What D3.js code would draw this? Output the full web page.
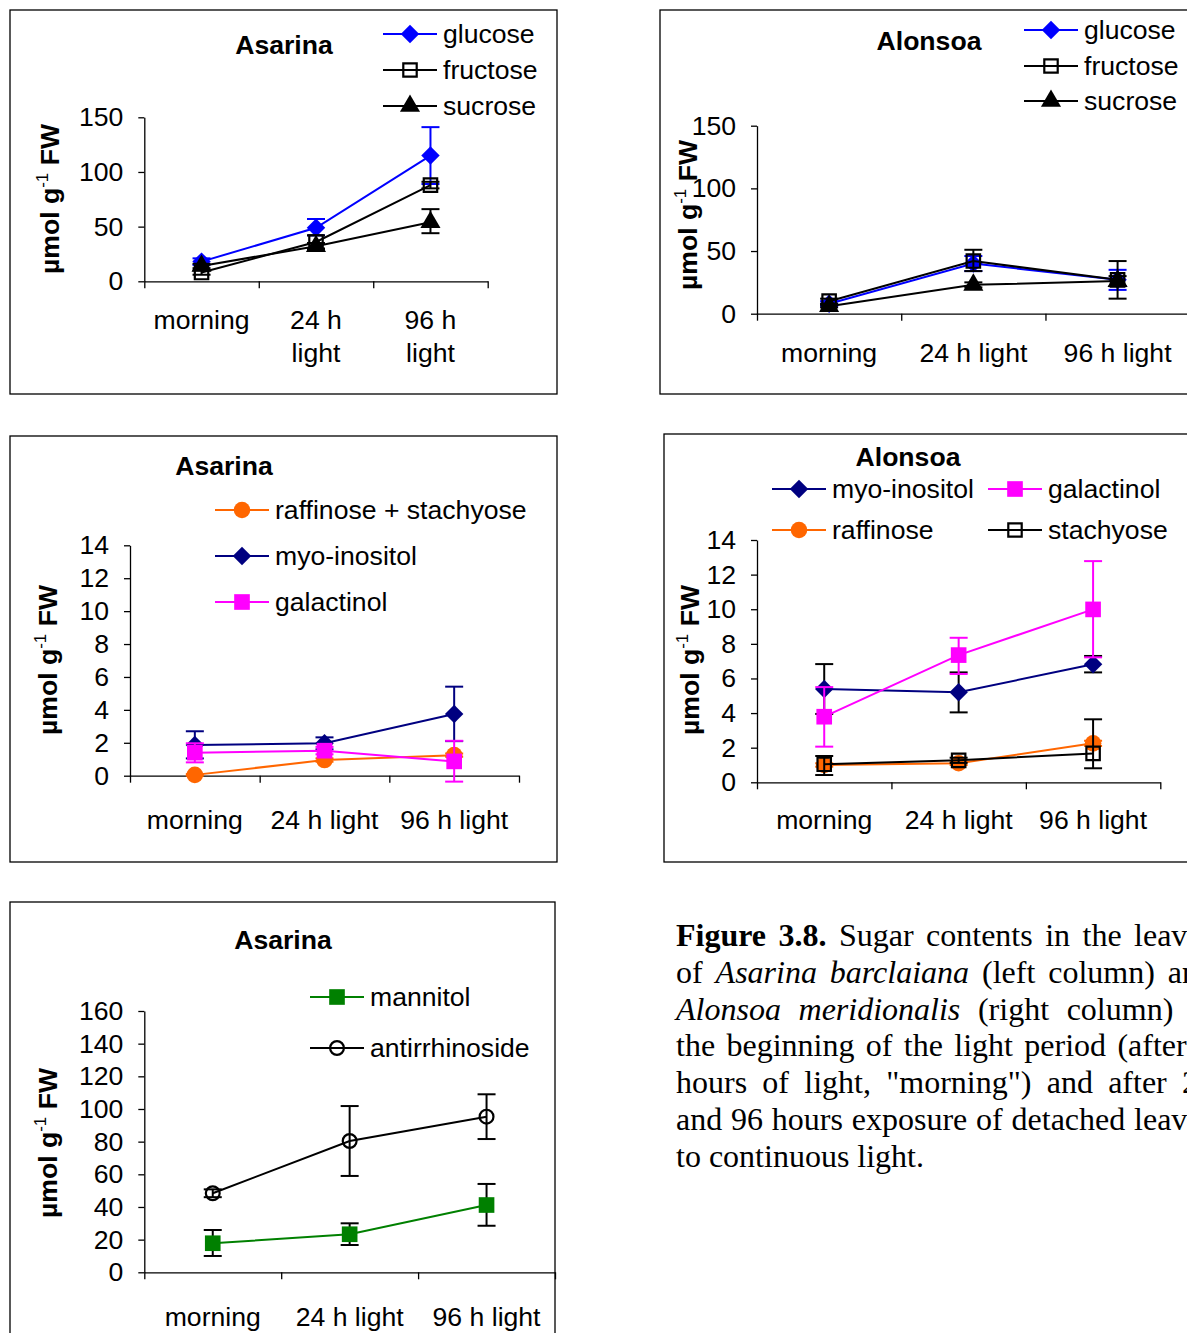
<!DOCTYPE html>
<html>
<head>
<meta charset="utf-8">
<script src="https://cdn.jsdelivr.net/npm/d3@7"></script>
<style>
  body { margin: 0; background: #fff; }
  svg { display: block; }
  text { font-family: "Liberation Sans", Arial, sans-serif; fill: #000; }
  text.caption { font-family: "Liberation Serif", "Times New Roman", serif; }
</style>
</head>
<body>
<div id="vis"></div>
<script>
var width = 1187;
var height = 1333;

// categories on the x axis
var categories = ["morning", "24 h light", "96 h light"];
var categoryLines = [["morning"], ["24 h", "light"], ["96 h", "light"]];

// Asarina: glucose, fructose, sucrose (umol g-1 FW), errors as [low, high]
var asGlucose = [18, 49, 115];
var asGlucoseErr = [[15, 21], [42, 57], [89, 141]];
var asFructose = [8, 36, 88];
var asFructoseErr = [[6, 10], [30, 42], [85, 91]];
var asSucrose = [14, 32, 54];
var asSucroseErr = [[12, 16], [29, 35], [44, 66]];

// Alonsoa: glucose, fructose, sucrose
var alGlucose = [8, 40, 27];
var alGlucoseErr = [[6, 10], [34, 46], [19, 35]];
var alFructose = [10, 42, 27];
var alFructoseErr = [[8, 12], [34, 51], [12, 42]];
var alSucrose = [6, 23, 26];
var alSucroseErr = [[5, 7], [21, 25], [22, 30]];

// Asarina: raffinose + stachyose, myo-inositol, galactinol
var asRaffStach = [0.05, 0.95, 1.25];
var asRaffStachErr = [[0, 0.1], [0.85, 1.05], [1.15, 1.35]];
var asMyo = [1.87, 1.97, 3.75];
var asMyoErr = [[1.05, 2.7], [1.6, 2.33], [2.1, 5.41]];
var asGalactinol = [1.4, 1.52, 0.87];
var asGalactinolErr = [[0.81, 1.97], [1.3, 1.75], [-0.36, 2.12]];

// Alonsoa: myo-inositol, galactinol, raffinose, stachyose
var alMyo = [5.39, 5.2, 6.82];
var alMyoErr = [[3.95, 6.83], [4.04, 6.35], [6.35, 7.3]];
var alGalactinol = [3.79, 7.35, 9.99];
var alGalactinolErr = [[2.06, 5.5], [6.26, 8.35], [7.22, 12.78]];
var alRaffinose = [1.0, 1.1, 2.25];
var alRaffinoseErr = [[0.9, 1.1], [1.0, 1.2], [2.1, 2.4]];
var alStachyose = [1.04, 1.27, 1.67];
var alStachyoseErr = [[0.42, 1.52], [1.12, 1.42], [0.81, 3.64]];

// Asarina: mannitol, antirrhinoside
var asMannitol = [17.8, 23.3, 41.2];
var asMannitolErr = [[10, 25.9], [16.7, 30], [28.5, 54.1]];
var asAntirr = [48.4, 80.4, 95.3];
var asAntirrErr = [[46, 50.8], [59, 101.8], [81.6, 109]];

var fs = 26.6;
var blue = "#0000ff", navy = "#000080", magenta = "#ff00ff", orange = "#ff6600", green = "#008000";

var panels = [
  {
    box: [10, 10, 547, 384], title: "Asarina", titleX: 284, titleY: 45,
    yMax: 150, yStep: 50, x0: 144.3, x1: 487.7, yTop: 117.3, yBottom: 281.3,
    ylab: [50, 199], labelY: 320, wrap: true,
    series: [
      {name: "glucose", values: asGlucose, err: asGlucoseErr, color: blue, errColor: blue, marker: "diamond", lx: 383, ly: 34},
      {name: "fructose", values: asFructose, err: asFructoseErr, color: "#000", errColor: "#000", marker: "squareOpen", lx: 383, ly: 70},
      {name: "sucrose", values: asSucrose, err: asSucroseErr, color: "#000", errColor: "#000", marker: "triangle", lx: 383, ly: 106}
    ]
  },
  {
    box: [660, 10, 560, 384], title: "Alonsoa", titleX: 929, titleY: 41,
    yMax: 150, yStep: 50, x0: 757, x1: 1189.7, yTop: 125.7, yBottom: 313.7,
    ylab: [688, 215], labelY: 353, wrap: false,
    series: [
      {name: "glucose", values: alGlucose, err: alGlucoseErr, color: blue, errColor: blue, marker: "diamond", lx: 1024, ly: 30},
      {name: "fructose", values: alFructose, err: alFructoseErr, color: "#000", errColor: "#000", marker: "squareOpen", lx: 1024, ly: 66},
      {name: "sucrose", values: alSucrose, err: alSucroseErr, color: "#000", errColor: "#000", marker: "triangle", lx: 1024, ly: 101}
    ]
  },
  {
    box: [10, 436, 547, 426], title: "Asarina", titleX: 224, titleY: 466,
    yMax: 14, yStep: 2, x0: 130, x1: 519, yTop: 545.3, yBottom: 775.7,
    ylab: [48, 660], labelY: 820, wrap: false,
    series: [
      {name: "raffinose + stachyose", values: asRaffStach, err: asRaffStachErr, color: orange, errColor: orange, marker: "circle", lx: 215, ly: 510},
      {name: "myo-inositol", values: asMyo, err: asMyoErr, color: navy, errColor: navy, marker: "diamond", lx: 215, ly: 556},
      {name: "galactinol", values: asGalactinol, err: asGalactinolErr, color: magenta, errColor: magenta, marker: "square", lx: 215, ly: 602}
    ]
  },
  {
    box: [664, 434, 560, 428], title: "Alonsoa", titleX: 908, titleY: 457,
    yMax: 14, yStep: 2, x0: 757, x1: 1160.3, yTop: 540, yBottom: 782.3,
    ylab: [690, 660], labelY: 820, wrap: false,
    series: [
      {name: "myo-inositol", values: alMyo, err: alMyoErr, color: navy, errColor: "#000", marker: "diamond", lx: 772, ly: 489},
      {name: "galactinol", values: alGalactinol, err: alGalactinolErr, color: magenta, errColor: magenta, marker: "square", lx: 988, ly: 489},
      {name: "raffinose", values: alRaffinose, err: alRaffinoseErr, color: orange, errColor: orange, marker: "circle", lx: 772, ly: 530},
      {name: "stachyose", values: alStachyose, err: alStachyoseErr, color: "#000", errColor: "#000", marker: "squareOpen", lx: 988, ly: 530}
    ]
  },
  {
    box: [10, 902, 545, 460], title: "Asarina", titleX: 283, titleY: 940,
    yMax: 160, yStep: 20, x0: 144.3, x1: 555, yTop: 1011, yBottom: 1272.3,
    ylab: [48, 1143], labelY: 1317, wrap: false,
    series: [
      {name: "mannitol", values: asMannitol, err: asMannitolErr, color: green, errColor: "#000", marker: "square", lx: 310, ly: 997},
      {name: "antirrhinoside", values: asAntirr, err: asAntirrErr, color: "#000", errColor: "#000", marker: "circleOpen", lx: 310, ly: 1048}
    ]
  }
];

var svg = d3.select("#vis")
  .append("svg")
  .attr("width", width)
  .attr("height", height);

var symbolType = {diamond: d3.symbolSquare, square: d3.symbolSquare, squareOpen: d3.symbolSquare,
  triangle: d3.symbolTriangle, circle: d3.symbolCircle, circleOpen: d3.symbolCircle};
var symbolSize = {diamond: 170, square: 245, squareOpen: 180, triangle: 175, circle: 215, circleOpen: 150};

function drawMarker(g, s, x, y) {
  var open = s.marker.indexOf("Open") >= 0;
  g.append("path")
    .attr("d", d3.symbol(symbolType[s.marker], symbolSize[s.marker])())
    .attr("transform", "translate(" + x + "," + y + ")" + (s.marker == "diamond" ? " rotate(45)" : ""))
    .attr("fill", open ? "none" : s.color)
    .attr("stroke", open ? s.color : "none")
    .attr("stroke-width", 2.2);
}

function drawPanel(p) {
  var g = svg.append("g");

  g.append("rect")
    .attr("x", p.box[0]).attr("y", p.box[1])
    .attr("width", p.box[2]).attr("height", p.box[3])
    .attr("fill", "none").attr("stroke", "#000").attr("stroke-width", 1.3);

  var x = d3.scaleBand().domain(categories).range([p.x0, p.x1]);
  var xEdge = d3.scaleLinear().domain([0, 3]).range([p.x0, p.x1]);
  var y = d3.scaleLinear().domain([0, p.yMax]).range([p.yBottom, p.yTop]);

  // y axis
  var yAxis = g.append("g")
    .attr("transform", "translate(" + p.x0 + ",0)")
    .call(d3.axisLeft(y).tickValues(d3.range(0, p.yMax + 0.01, p.yStep)).tickSize(6).tickPadding(15).tickSizeOuter(0));
  yAxis.select(".domain").attr("stroke", "#000").attr("stroke-width", 1.3);
  yAxis.selectAll(".tick line").attr("stroke", "#000").attr("stroke-width", 1.3);
  yAxis.selectAll(".tick text").attr("font-size", fs).attr("font-family", "Liberation Sans, Arial, sans-serif").attr("fill", "#000");

  // x axis, ticks on category boundaries
  var xAxis = g.append("g")
    .attr("transform", "translate(0," + p.yBottom + ")")
    .call(d3.axisBottom(xEdge).tickValues([0, 1, 2, 3]).tickFormat("").tickSize(7).tickSizeOuter(0));
  xAxis.select(".domain").attr("stroke", "#000").attr("stroke-width", 1.3);
  xAxis.selectAll(".tick line").attr("stroke", "#000").attr("stroke-width", 1.3);

  // category labels
  categories.forEach(function(c, i) {
    var lines = p.wrap ? categoryLines[i] : [c];
    lines.forEach(function(t, j) {
      g.append("text")
        .attr("x", x(c) + x.bandwidth() / 2)
        .attr("y", p.labelY + j * 33)
        .attr("dy", "0.35em")
        .attr("text-anchor", "middle")
        .attr("font-size", fs)
        .text(t);
    });
  });

  // title
  g.append("text")
    .attr("x", p.titleX).attr("y", p.titleY).attr("dy", "0.35em")
    .attr("text-anchor", "middle").attr("font-size", fs).attr("font-weight", "bold")
    .text(p.title);

  // y label
  var yl = g.append("text")
    .attr("transform", "translate(" + p.ylab[0] + "," + p.ylab[1] + ") rotate(-90)")
    .attr("text-anchor", "middle").attr("font-size", fs).attr("font-weight", "bold");
  yl.append("tspan").attr("dy", "0.35em").text("\u00b5mol g");
  yl.append("tspan").attr("dy", -11).attr("font-size", 17).attr("font-weight", "normal").text("-1");
  yl.append("tspan").attr("dy", 11).text(" FW");

  var cx = function(i) { return x(categories[i]) + x.bandwidth() / 2; };
  var line = d3.line().x(function(d, i) { return cx(i); }).y(function(d) { return y(d); });

  p.series.forEach(function(s) {
    var sg = g.append("g");
    // error bars
    s.err.forEach(function(e, i) {
      sg.append("line")
        .attr("x1", cx(i)).attr("x2", cx(i))
        .attr("y1", y(e[0])).attr("y2", y(e[1]))
        .attr("stroke", s.errColor).attr("stroke-width", 2);
      e.forEach(function(v) {
        sg.append("line")
          .attr("x1", cx(i) - 9).attr("x2", cx(i) + 9)
          .attr("y1", y(v)).attr("y2", y(v))
          .attr("stroke", s.errColor).attr("stroke-width", 2);
      });
    });
    sg.append("path")
      .datum(s.values)
      .attr("d", line)
      .attr("fill", "none").attr("stroke", s.color).attr("stroke-width", 2);
    s.values.forEach(function(v, i) { drawMarker(sg, s, cx(i), y(v)); });

    // legend entry
    var lg = g.append("g");
    lg.append("line")
      .attr("x1", s.lx).attr("x2", s.lx + 54)
      .attr("y1", s.ly).attr("y2", s.ly)
      .attr("stroke", s.color).attr("stroke-width", 2);
    drawMarker(lg, s, s.lx + 27, s.ly);
    lg.append("text")
      .attr("x", s.lx + 60).attr("y", s.ly).attr("dy", "0.35em")
      .attr("font-size", fs)
      .text(s.name);
  });
}

panels.forEach(drawPanel);

// caption, justified like the printed page
var captionLines = [
  [["Figure", "b"], ["3.8.", "b"], ["Sugar"], ["contents"], ["in"], ["the"], ["leaves"]],
  [["of"], ["Asarina", "i"], ["barclaiana", "i"], ["(left"], ["column)"], ["and"]],
  [["Alonsoa", "i"], ["meridionalis", "i"], ["(right"], ["column)"], ["at"]],
  [["the"], ["beginning"], ["of"], ["the"], ["light"], ["period"], ["(after"], ["2"]],
  [["hours"], ["of"], ["light,"], ["\"morning\")"], ["and"], ["after"], ["24"]],
  [["and"], ["96"], ["hours"], ["exposure"], ["of"], ["detached"], ["leaves"]],
  [["to"], ["continuous"], ["light."]]
];
var capX = 676, capW = 538, capY = 946, capStep = 36.8, capFs = 32;

var cap = svg.append("g");
captionLines.forEach(function(words, li) {
  var nodes = words.map(function(w) {
    return cap.append("text")
      .attr("class", "caption")
      .attr("y", capY + li * capStep)
      .attr("font-size", capFs)
      .attr("font-weight", w[1] == "b" ? "bold" : "normal")
      .attr("font-style", w[1] == "i" ? "italic" : "normal")
      .text(w[0]);
  });
  var widths = nodes.map(function(n) { return n.node().getComputedTextLength(); });
  var total = d3.sum(widths);
  var last = li == captionLines.length - 1;
  var gap = last ? capFs * 0.25 : (capW - total) / (words.length - 1);
  var xPos = capX;
  nodes.forEach(function(n, i) {
    n.attr("x", xPos);
    xPos += widths[i] + gap;
  });
});
</script>
</body>
</html>
